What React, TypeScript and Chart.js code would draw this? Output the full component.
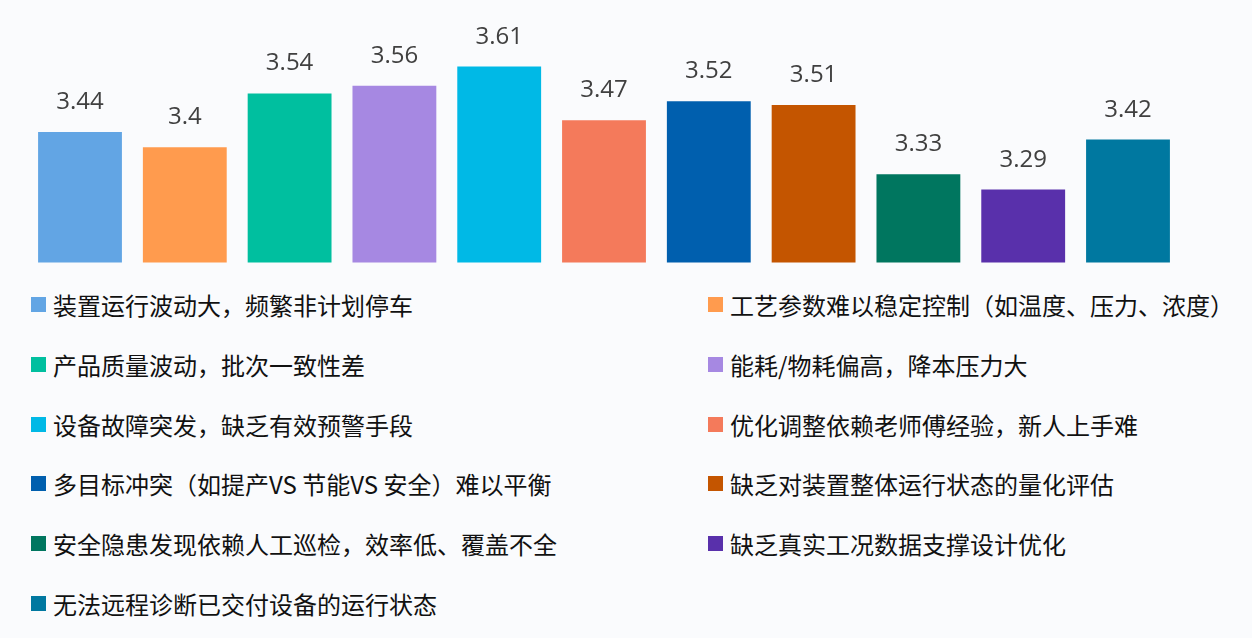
import React, { useEffect, useRef } from "react";
import { Chart, registerables } from "chart.js";

Chart.register(...registerables);

// 问题类别
const categories: string[] = [
  "装置运行波动大，频繁非计划停车",
  "工艺参数难以稳定控制（如温度、压力、浓度）",
  "产品质量波动，批次一致性差",
  "能耗/物耗偏高，降本压力大",
  "设备故障突发，缺乏有效预警手段",
  "优化调整依赖老师傅经验，新人上手难",
  "多目标冲突（如提产VS 节能VS 安全）难以平衡",
  "缺乏对装置整体运行状态的量化评估",
  "安全隐患发现依赖人工巡检，效率低、覆盖不全",
  "缺乏真实工况数据支撑设计优化",
  "无法远程诊断已交付设备的运行状态",
];

// 平均得分
const scores: number[] = [3.44, 3.4, 3.54, 3.56, 3.61, 3.47, 3.52, 3.51, 3.33, 3.29, 3.42];

const barColors: string[] = [
  "#62a5e4",
  "#ff9b4e",
  "#00bf9f",
  "#a688e2",
  "#00b9e6",
  "#f47a5b",
  "#005fae",
  "#c45500",
  "#00765f",
  "#5930ab",
  "#0078a0",
];

// 柱顶数值标签
const valueLabels = {
  id: "valueLabels",
  afterDatasetsDraw(chart: any) {
    const ctx = chart.ctx;
    const meta = chart.getDatasetMeta(0);
    ctx.save();
    ctx.font = '24px "Open Sans", sans-serif';
    ctx.fillStyle = "#404040";
    ctx.textAlign = "center";
    ctx.textBaseline = "alphabetic";
    meta.data.forEach((bar: any, i: number) => {
      ctx.fillText(String(scores[i]), bar.x, bar.y - 23);
    });
    ctx.restore();
  },
};

const App: React.FC = () => {
  const canvasRef = useRef<HTMLCanvasElement>(null);

  useEffect(() => {
    if (!canvasRef.current) return;
    const ctx = canvasRef.current.getContext("2d");
    if (!ctx) return;

    const chart = new Chart(ctx, {
      type: "bar",
      data: {
        labels: categories,
        datasets: [
          {
            data: scores,
            backgroundColor: barColors,
            barPercentage: 0.8,
            categoryPercentage: 1,
          },
        ],
      },
      options: {
        responsive: true,
        maintainAspectRatio: false,
        animation: false,
        layout: { padding: { left: 27.6, right: 71.6, top: 32, bottom: 7.5 } },
        plugins: {
          legend: { display: false },
          tooltip: { enabled: false },
        },
        scales: {
          x: { display: false },
          y: { display: false, min: 3.1, max: 3.7 },
        },
      },
      plugins: [valueLabels],
    });

    return () => {
      chart.destroy();
    };
  }, []);

  return (
    <div
      style={{
        position: "fixed",
        left: 0,
        top: 0,
        width: 1252,
        height: 638,
        background: "#fafbfd",
      }}
    >
      <div style={{ position: "absolute", left: 0, top: 0, width: 1252, height: 270 }}>
        <canvas ref={canvasRef}></canvas>
      </div>
      {categories.map((name, i) => (
        <div
          key={name}
          style={{
            position: "absolute",
            left: i % 2 === 0 ? 31 : 708,
            top: 288.5 + Math.floor(i / 2) * 59.8,
            height: 32,
            display: "flex",
            alignItems: "center",
            whiteSpace: "nowrap",
            fontFamily: '"Noto Sans CJK SC", sans-serif',
            fontSize: 24,
            color: "#111",
          }}
        >
          <span
            style={{
              display: "inline-block",
              width: 15,
              height: 15,
              background: barColors[i],
              marginRight: 7,
            }}
          ></span>
          {name}
        </div>
      ))}
    </div>
  );
};

export default App;
